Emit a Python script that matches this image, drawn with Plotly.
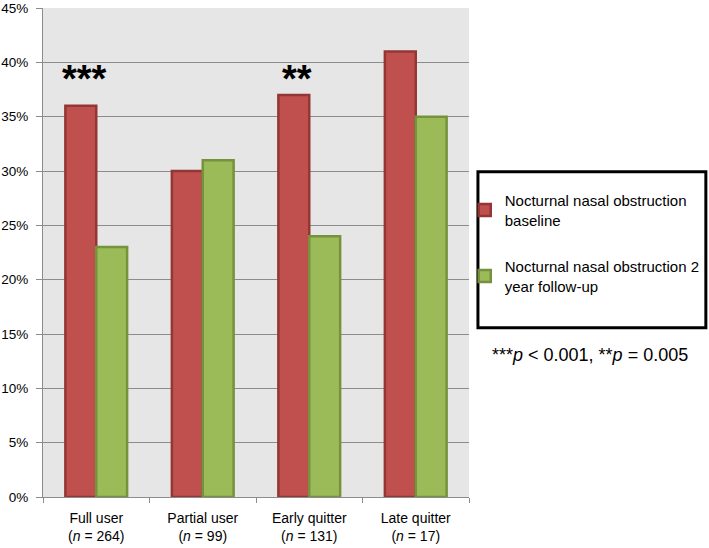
import plotly.graph_objects as go

# data
groups = ['Full user<br>(<i>n</i> = 264)', 'Partial user<br>(<i>n</i> = 99)',
          'Early quitter<br>(<i>n</i> = 131)', 'Late quitter<br>(<i>n</i> = 17)']
baseline = [36, 30, 37, 41]
followup = [23, 31, 24, 35]
stars = ['***', '', '**', '']

fig = go.Figure()
fig.add_trace(go.Bar(x=groups, y=baseline, name='Nocturnal nasal obstruction<br>baseline',
                     legendgroup='a',
                     marker=dict(color='#c0504d', line=dict(color='#943634', width=2.5))))
fig.add_trace(go.Bar(x=groups, y=followup, name='Nocturnal nasal obstruction 2<br>year follow-up',
                     legendgroup='b',
                     marker=dict(color='#9bbb59', line=dict(color='#76923c', width=2.5))))

for g, s in zip(groups, stars):
    if s:
        fig.add_annotation(x=g, y=38.5, text='<b>' + s + '</b>', showarrow=False,
                           xshift=-12, yanchor='middle', font=dict(size=38, color='black'))

# legend frame and p-value note
fig.add_shape(type='rect', xref='paper', yref='paper', x0=1.021, x1=1.556, y0=0.346, y1=0.665,
              line=dict(color='black', width=3), fillcolor='rgba(0,0,0,0)')
fig.add_annotation(xref='paper', yref='paper', x=1.285, y=0.290, showarrow=False,
                   xanchor='center', yanchor='middle',
                   text='***<i>p</i> < 0.001, **<i>p</i> = 0.005',
                   font=dict(size=18, color='black'))

fig.update_layout(
    width=709, height=548,
    margin=dict(l=43, r=240, t=8, b=51, autoexpand=False),
    plot_bgcolor='#e6e6e6', paper_bgcolor='white',
    font=dict(family='Liberation Sans, Arial, sans-serif', size=14, color='black'),
    barmode='group', bargap=0.42, bargroupgap=0,
    showlegend=True,
    legend=dict(x=0.99, y=0.64, xanchor='left', yanchor='top',
                font=dict(size=15), tracegroupgap=24, itemwidth=30,
                bgcolor='rgba(0,0,0,0)', traceorder='grouped'),
    xaxis=dict(showline=True, linecolor='#8c8c8c', linewidth=1, ticks='outside',
               tickson='boundaries', tickcolor='#8c8c8c', ticklen=5,
               tickfont=dict(size=14), ticklabelstandoff=8),
    yaxis=dict(range=[0, 45], dtick=5, ticksuffix='%', showgrid=True, gridcolor='#8c8c8c',
               gridwidth=1, showline=True, linecolor='#8c8c8c', ticks='outside',
               tickcolor='#8c8c8c', ticklen=6, tickfont=dict(size=13.5), zeroline=False,
               ticklabelstandoff=5, ticklabeloverflow='allow'),
)

fig.write_html('out.html', config={'displayModeBar': False},
               post_script="document.body.style.margin='0';")
